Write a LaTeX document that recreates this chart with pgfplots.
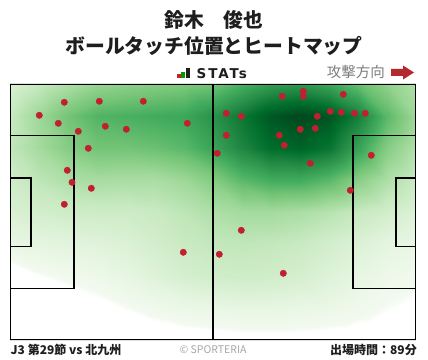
\documentclass[border=0pt]{standalone}
\usepackage{fontspec}
\usepackage{pgfplots}
\pgfplotsset{compat=1.18}
\newfontfamily\cjk{Noto Sans CJK JP}
\newfontfamily\pop{DejaVu Sans}[LetterSpace=14]
\definecolor{dotred}{RGB}{192,32,48}
\definecolor{arrowred}{RGB}{180,40,48}
\definecolor{txtgray}{RGB}{125,125,125}
\definecolor{ttl}{RGB}{30,30,30}
\pgfplotsset{colormap={greensT}{rgb255(0)=(255,255,255) rgb255(4)=(255,255,255) rgb255(5)=(243,250,240) rgb255(12)=(229,245,224) rgb255(25)=(199,233,192) rgb255(37)=(161,217,155) rgb255(50)=(116,196,118) rgb255(62)=(65,171,93) rgb255(75)=(35,139,69) rgb255(87)=(0,109,44) rgb255(100)=(0,68,27)}}
\begin{document}
\begin{tikzpicture}[x=1pt,y=1pt]
\path[use as bounding box] (0,0) rectangle (428,359);
\begin{axis}[at={(10pt,19pt)}, anchor=south west, scale only axis,
  width=406pt, height=256pt, view={0}{90},
  xmin=0, xmax=406, ymin=0, ymax=256,
  hide axis, colormap name=greensT, point meta min=0, point meta max=1]
\addplot3[surf, shader=interp, mesh/cols=15, point meta=\thisrow{v}] table[x=x,y=y,z=v] {
x y v
0 0 0
29 0 0
58 0 0
87 0 0
116 0 0
145 0 0
174 0 0.01
203 0 0.015
232 0 0.02
261 0 0.02
290 0 0.02
319 0 0.015
348 0 0.01
377 0 0
406 0 0
0 32 0
29 32 0
58 32 0
87 32 0.02
116 32 0.045
145 32 0.07
174 32 0.09
203 32 0.1
232 32 0.11
261 32 0.11
290 32 0.1
319 32 0.09
348 32 0.07
377 32 0.045
406 32 0.03
0 64 0
29 64 0.04
58 64 0.06
87 64 0.08
116 64 0.11
145 64 0.15
174 64 0.19
203 64 0.21
232 64 0.22
261 64 0.21
290 64 0.19
319 64 0.15
348 64 0.11
377 64 0.08
406 64 0.06
0 96 0.1
29 96 0.12
58 96 0.13
87 96 0.14
116 96 0.16
145 96 0.2
174 96 0.24
203 96 0.26
232 96 0.27
261 96 0.26
290 96 0.24
319 96 0.2
348 96 0.16
377 96 0.12
406 96 0.1
0 128 0.17
29 128 0.2
58 128 0.22
87 128 0.22
116 128 0.22
145 128 0.24
174 128 0.28
203 128 0.33
232 128 0.36
261 128 0.36
290 128 0.34
319 128 0.3
348 128 0.25
377 128 0.2
406 128 0.16
0 160 0.22
29 160 0.28
58 160 0.33
87 160 0.35
116 160 0.34
145 160 0.34
174 160 0.38
203 160 0.45
232 160 0.56
261 160 0.62
290 160 0.62
319 160 0.56
348 160 0.44
377 160 0.33
406 160 0.24
0 192 0.27
29 192 0.36
58 192 0.45
87 192 0.5
116 192 0.5
145 192 0.52
174 192 0.56
203 192 0.65
232 192 0.77
261 192 0.87
290 192 0.9
319 192 0.84
348 192 0.66
377 192 0.45
406 192 0.32
0 224 0.25
29 224 0.38
58 224 0.5
87 224 0.58
116 224 0.6
145 224 0.62
174 224 0.64
203 224 0.72
232 224 0.83
261 224 0.94
290 224 0.99
319 224 0.95
348 224 0.8
377 224 0.56
406 224 0.38
0 256 0.17
29 256 0.25
58 256 0.33
87 256 0.4
116 256 0.43
145 256 0.45
174 256 0.47
203 256 0.5
232 256 0.6
261 256 0.68
290 256 0.7
319 256 0.64
348 256 0.53
377 256 0.42
406 256 0.33
};
\addplot[only marks, mark=*, mark size=3.2pt, color=dotred, mark options={fill=dotred, draw=dotred}] coordinates {
(54.3,237.7) (89.3,238.7) (133.3,238.7) (29.3,224.7) (48.3,216.7) (95.3,213.7)
(116.3,210.7) (177.3,216.7) (68.3,208.7) (78.3,191.7) (57.3,169.7) (62,157.7)
(81.3,151.7) (54.3,135.7) (293.3,248.7) (293.3,243.7) (272.3,243.7) (333.3,245.7)
(216.3,226.7) (231.3,223.7) (307.3,223.7) (320.3,228.7) (331.3,227.7) (344.3,226.7)
(355.3,226.7) (216.3,204.7) (269.3,204.7) (290.3,210.7) (305.3,211.7) (274.3,194.7)
(207.3,186.7) (300.3,176.7) (361.3,184.7) (340.3,149.7) (231.3,109.7) (173.3,87.7)
(209.3,85.7) (273.3,66.7)
};
\addplot[black, line width=1.6pt, line join=miter] coordinates {(0,0) (406,0) (406,256) (0,256) (0,0)};
\addplot[black, line width=1.6pt] coordinates {(203,0) (203,256)};
\addplot[black, line width=1.6pt, line join=miter] coordinates {(0,204.5) (63.7,204.5) (63.7,51.5) (0,51.5)};
\addplot[black, line width=1.6pt, line join=miter] coordinates {(0,162) (21,162) (21,93.3) (0,93.3)};
\addplot[black, line width=1.6pt, line join=miter] coordinates {(406,204.5) (343,204.5) (343,51.5) (406,51.5)};
\addplot[black, line width=1.6pt, line join=miter] coordinates {(406,162) (385.7,162) (385.7,93.3) (406,93.3)};
\end{axis}
% titles
\node[anchor=base, inner sep=0pt, text=ttl] at (214,331) {\cjk\bfseries\fontsize{19.8}{22}\selectfont 鈴木　俊也};
\node[anchor=base, inner sep=0pt, text=ttl] at (214,305) {\cjk\bfseries\fontsize{19.8}{22}\selectfont ボールタッチ位置とヒートマップ};
% STATs logo
\fill[dotred] (177,280.5) rectangle (180.5,284.5);
\fill[green!60!black] (181.3,280.5) rectangle (184.8,286.5);
\fill[ttl] (185.6,280.5) rectangle (189.6,291);
\node[anchor=base west, inner sep=0pt, text=ttl] at (196.5,280.5) {\pop\bfseries\fontsize{13.5}{15}\selectfont STATs};
% direction
\node[anchor=base east, inner sep=0pt, text=txtgray] at (385,281.5) {\cjk\fontsize{14.5}{16}\selectfont 攻撃方向};
\fill[arrowred] (391,283) -- (403,283) -- (403,279.5) -- (414,286.5) -- (403,293.5) -- (403,290) -- (391,290) -- cycle;
% footer
\node[anchor=base west, inner sep=0pt, text=ttl] at (10.5,5) {\cjk\bfseries\fontsize{12}{14}\selectfont J3 第29節 vs 北九州};
\node[anchor=base, inner sep=0pt, text=gray!70] at (213,6) {\cjk\fontsize{10.5}{12}\selectfont © SPORTERIA};
\node[anchor=base east, inner sep=0pt, text=ttl] at (417,5) {\cjk\bfseries\fontsize{12}{14}\selectfont 出場時間：89分};
\end{tikzpicture}
\end{document}
